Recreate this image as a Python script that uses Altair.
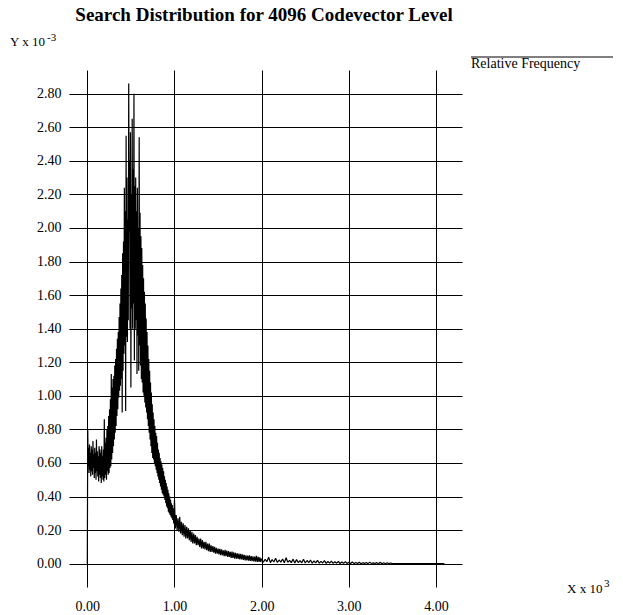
import altair as alt
import pandas as pd

# ---------------- data (relative frequency in units of 10^-3) ----------------
title_text = "Search Distribution for 4096 Codevector Level"
legend_label = "Relative Frequency"
x_ticks = [0, 1000, 2000, 3000, 4000]
y_ticks = [0.0, 0.2, 0.4, 0.6, 0.8, 1.0, 1.2, 1.4, 1.6, 1.8, 2.0, 2.2, 2.4, 2.6, 2.8]

# codevector index 0..995, step 5
x_peak = list(range(0, 1000, 5))
y_peak = [
    0.00, 0.80, 0.58, 0.69, 0.54, 0.71, 0.56, 0.66, 0.52, 0.70,
    0.55, 0.68, 0.53, 0.73, 0.57, 0.65, 0.51, 0.69, 0.54, 0.66,
    0.50, 0.74, 0.55, 0.67, 0.52, 0.64, 0.49, 0.70, 0.53, 0.68,
    0.51, 0.66, 0.48, 0.70, 0.52, 0.64, 0.50, 0.68, 0.49, 0.86,
    0.51, 0.72, 0.53, 0.75, 0.50, 0.80, 0.55, 0.82, 0.53, 0.88,
    0.54, 0.92, 0.57, 0.98, 0.58, 1.13, 0.62, 1.05, 0.66, 1.10,
    0.70, 1.12, 0.74, 1.18, 0.78, 1.22, 0.82, 1.28, 0.88, 1.34,
    0.92, 1.38, 0.99, 1.47, 1.03, 1.55, 1.06, 1.64, 1.10, 1.72,
    0.90, 1.85, 1.15, 1.92, 1.25, 2.24, 1.30, 2.10, 0.91, 2.55,
    1.35, 2.30, 1.32, 2.05, 1.45, 2.86, 1.98, 2.40, 1.40, 2.57,
    1.05, 2.20, 1.52, 2.65, 1.40, 2.35, 1.55, 2.80, 1.21, 2.25,
    1.40, 2.30, 1.45, 2.10, 1.13, 2.24, 1.36, 2.00, 1.15, 2.54,
    1.30, 2.09, 1.18, 1.95, 1.10, 1.88, 1.08, 1.78, 1.02, 1.70,
    1.00, 1.62, 0.96, 1.55, 0.93, 1.46, 0.90, 1.38, 0.86, 1.30,
    0.82, 1.22, 0.78, 1.15, 0.74, 1.08, 0.70, 1.02, 0.66, 0.95,
    0.63, 0.90, 0.62, 0.86, 0.60, 0.82, 0.58, 0.78, 0.56, 0.76,
    0.54, 0.72, 0.52, 0.68, 0.50, 0.66, 0.48, 0.63, 0.46, 0.61,
    0.44, 0.59, 0.42, 0.57, 0.41, 0.55, 0.40, 0.52, 0.38, 0.50,
    0.36, 0.48, 0.34, 0.46, 0.33, 0.44, 0.31, 0.42, 0.30, 0.40,
    0.29, 0.38, 0.28, 0.36, 0.27, 0.35, 0.26, 0.33, 0.24, 0.31,
]

# codevector index 1000..1990, step 10
x_mid = list(range(1000, 2000, 10))
y_mid = [
    0.38, 0.21, 0.29, 0.20, 0.27, 0.19, 0.28, 0.18, 0.25, 0.17,
    0.24, 0.16, 0.23, 0.15, 0.22, 0.15, 0.21, 0.14, 0.20, 0.13,
    0.19, 0.12, 0.18, 0.12, 0.17, 0.11, 0.16, 0.11, 0.15, 0.10,
    0.15, 0.09, 0.14, 0.09, 0.13, 0.085, 0.13, 0.08, 0.12, 0.075,
    0.12, 0.07, 0.11, 0.07, 0.105, 0.065, 0.10, 0.06, 0.095, 0.06,
    0.09, 0.055, 0.088, 0.05, 0.085, 0.05, 0.08, 0.045, 0.082, 0.045,
    0.078, 0.04, 0.075, 0.04, 0.07, 0.035, 0.072, 0.035, 0.068, 0.03,
    0.065, 0.03, 0.062, 0.028, 0.06, 0.025, 0.058, 0.025, 0.055, 0.022,
    0.052, 0.02, 0.05, 0.02, 0.048, 0.018, 0.05, 0.016, 0.045, 0.015,
    0.044, 0.013, 0.042, 0.012, 0.046, 0.011, 0.04, 0.01, 0.038, 0.01,
]

# codevector index 2000..3500, step 20, then the last index
x_tail = list(range(2000, 3520, 20)) + [4096]
y_tail = [
    0.030, 0.008, 0.026, 0.012, 0.038, 0.006, 0.024, 0.010, 0.032, 0.007,
    0.022, 0.009, 0.028, 0.005, 0.035, 0.008, 0.020, 0.006, 0.027, 0.004,
    0.024, 0.007, 0.018, 0.005, 0.026, 0.004, 0.019, 0.006, 0.022, 0.003,
    0.016, 0.005, 0.020, 0.003, 0.014, 0.004, 0.018, 0.002, 0.013, 0.003,
    0.015, 0.002, 0.011, 0.003, 0.013, 0.001, 0.010, 0.002, 0.012, 0.001,
    0.009, 0.001, 0.010, 0.000, 0.007, 0.001, 0.008, 0.000, 0.006, 0.001,
    0.007, 0.000, 0.009, 0.000, 0.005, 0.001, 0.006, 0.000, 0.008, 0.000,
    0.005, 0.000, 0.006, 0.000, 0.004, 0.000,
    0.000,
]

df = pd.DataFrame({"x": x_peak + x_mid + x_tail, "y": y_peak + y_mid + y_tail})

FONT = "Liberation Serif"
W, H = 393, 517

line = alt.Chart(df).mark_line(
    color="black", strokeWidth=1.2, strokeJoin="bevel"
).encode(
    x=alt.X(
        "x:Q",
        scale=alt.Scale(domain=[-210, 4298], nice=False, zero=False),
        axis=alt.Axis(
            values=x_ticks,
            labelExpr="format(datum.value / 1000, '.2f')",
            title=None, ticks=False, tickSize=0, domain=False,
            labelPadding=12, grid=True,
        ),
    ),
    y=alt.Y(
        "y:Q",
        scale=alt.Scale(domain=[-0.139, 2.941], nice=False, zero=False),
        axis=alt.Axis(
            values=y_ticks, format=".2f",
            title=None, ticks=False, tickSize=0, domain=False,
            labelPadding=8, grid=True,
        ),
    ),
)


def text_at(txt, x, y, size, weight="normal", align="left"):
    return alt.Chart(pd.DataFrame({"t": [txt]})).mark_text(
        align=align, baseline="alphabetic", font=FONT, fontSize=size,
        fontWeight=weight, color="black",
    ).encode(text="t:N", x=alt.value(x), y=alt.value(y))


title = text_at(title_text, 195, -49, 19, weight="bold", align="center")
ylab = text_at("Y x 10", -59, -24, 13)
ysup = text_at("-3", -22, -29, 11)
xlab = text_at("X x 10", 498, 523, 13)
xsup = text_at("3", 535, 517, 11)
leg_text = text_at(legend_label, 402, -2, 14)
leg_line = alt.Chart(pd.DataFrame({"t": [legend_label]})).mark_rule(
    color="black", strokeWidth=1
).encode(x=alt.value(402), x2=alt.value(544), y=alt.value(-13))

chart = alt.layer(
    line, title, ylab, ysup, xlab, xsup, leg_line, leg_text
).properties(
    width=W, height=H, autosize="none",
    padding={"left": 69, "top": 70, "right": 161, "bottom": 28},
).configure_view(
    stroke=None
).configure_axis(
    labelFont=FONT, labelFontSize=14, labelColor="black",
    gridColor="black", gridOpacity=1, gridWidth=1,
)

chart.save("out.html", embed_options={"renderer": "svg", "actions": False})
